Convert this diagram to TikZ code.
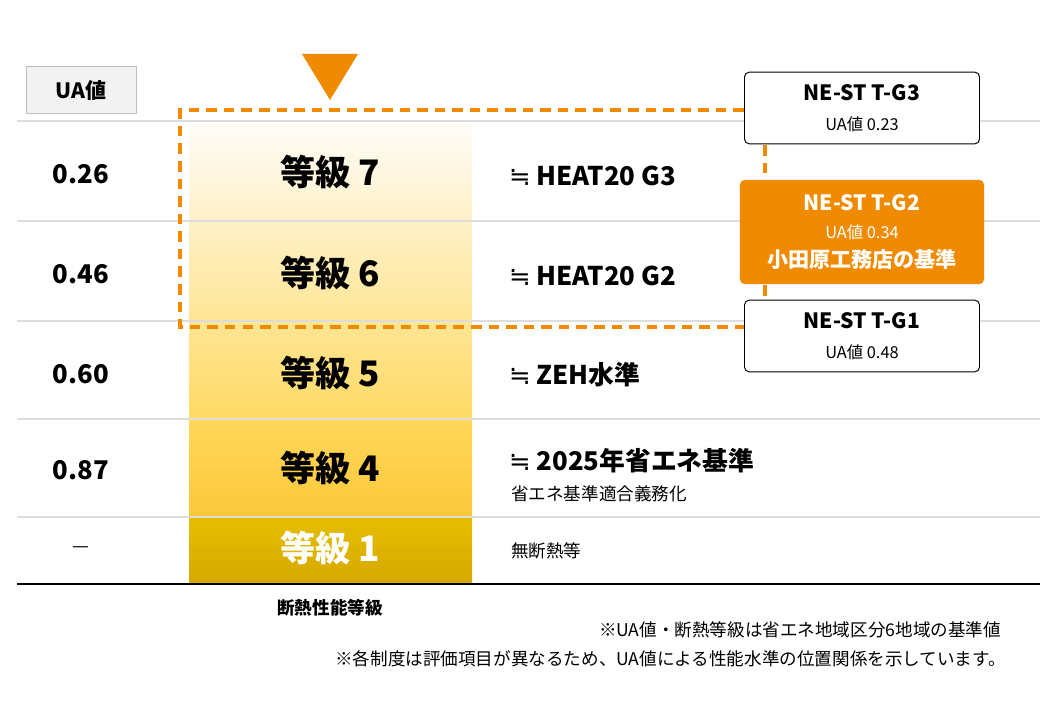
\documentclass[tikz,border=0pt]{standalone}
\usepackage{fontspec}
\setmainfont{Noto Sans CJK JP}
\newfontfamily\symfont{DejaVu Sans}
\definecolor{accent}{HTML}{F08A00}
\definecolor{rulegrey}{HTML}{DDDDDD}
\newcommand{\approxsym}{{\symfont\mdseries ≒}}
\tikzset{
  row/.style={draw=rulegrey, line width=1pt},
  grade/.style={font=\fontsize{30}{32}\selectfont\bfseries},
  uaval/.style={font=\fontsize{22}{24}\selectfont\bfseries},
  std/.style={anchor=west, font=\fontsize{22}{24}\selectfont\bfseries},
  stdbox/.style={draw, rounded corners=4pt, minimum width=7.05cm, line width=0.8pt, align=center, fill=white,
    font=\fontsize{18}{26}\selectfont}
}
\begin{document}
\begin{tikzpicture}[x=0.03cm, y=-0.03cm]
  \useasboundingbox (0,0) rectangle (1054,704);
  % grade column
  \shade[top color=yellow!3!orange!2!white, bottom color={rgb,255:red,255;green,218;blue,100}] (189,121) rectangle (472,419);
  \shade[top color={rgb,255:red,255;green,215;blue,90}, bottom color={rgb,255:red,252;green,200;blue,58}] (189,419) rectangle (472,517);
  \shade[top color={rgb,255:red,230;green,190;blue,0}, bottom color={rgb,255:red,214;green,168;blue,0}] (189,517) rectangle (472,584);
  % rows
  \foreach \y in {121,221,321,419,517}
    \draw[row] (17,\y) -- (1040,\y);
  \draw[line width=1.5pt] (17,584) -- (1040,584);
  % header
  \node[draw=gray!50, fill=gray!10, minimum width=3.3cm, minimum height=1.4cm,
        font=\fontsize{18}{20}\selectfont\bfseries] (ua) at (81,90) {UA値};
  \fill[accent] (302,54) -- (358,54) -- (330,100) -- cycle;
  % UA values
  \node[uaval] (u7) at (81,174) {0.26};
  \node[uaval] (u6) at (81,274) {0.46};
  \node[uaval] (u5) at (81,374) {0.60};
  \node[uaval] (u4) at (81,470) {0.87};
  \node[font=\fontsize{16}{18}\selectfont] (u1) at (81,550) {—};
  % grades
  \node[grade] (g7) at (330,172) {等級 7};
  \node[grade] (g6) at (330,273) {等級 6};
  \node[grade] (g5) at (330,373) {等級 5};
  \node[grade] (g4) at (330,468) {等級 4};
  \node[grade, text=white] (g1) at (330,548) {等級 1};
  % standards
  \node[std] (s7) at (505,176) {\approxsym\ HEAT20 G3};
  \node[std] (s6) at (505,276) {\approxsym\ HEAT20 G2};
  \node[std] (s5) at (505,375) {\approxsym\ ZEH水準};
  \node[std] (s4) at (505,461) {\approxsym\ 2025年省エネ基準};
  \node[anchor=west, font=\fontsize{15}{17}\selectfont] (s4b) at (507,494) {省エネ基準適合義務化};
  \node[anchor=west, font=\fontsize{15}{17}\selectfont] (s1) at (507,551) {無断熱等};
  % NE-ST boxes
  \node[stdbox, minimum height=2.15cm] (t3) at (862,108)
    {\textbf{NE-ST T-G3}\\{\fontsize{14}{16}\selectfont UA値 0.23}};
  \node[stdbox, fill=accent, draw=accent, text=white, minimum width=7.3cm, minimum height=3.1cm,
        font=\fontsize{18}{24}\selectfont] (t2) at (862,232)
    {\textbf{NE-ST T-G2}\\{\fontsize{14}{16}\selectfont UA値 0.34}\\\textbf{小田原工務店の基準}};
  \node[stdbox, minimum height=2.15cm] (t1) at (862,336)
    {\textbf{NE-ST T-G1}\\{\fontsize{14}{16}\selectfont UA値 0.48}};
  % dashed frame
  \draw[accent, line width=3pt, dash pattern=on 9pt off 6pt] (t3.west |- 0,110) -- (180,110) -- (180,327) -- (t1.west |- 0,327);
  \draw[accent, line width=3pt, dash pattern=on 9pt off 6pt] (765,145) -- (765,180);
  \draw[accent, line width=3pt, dash pattern=on 9pt off 6pt] (765,285) -- (765,300);
  % notes
  \node[font=\fontsize{15}{17}\selectfont\bfseries] (cap) at (330,608) {断熱性能等級};
  \node[anchor=east, font=\fontsize{15}{17}\selectfont] (n1) at (1005,630) {※UA値・断熱等級は省エネ地域区分6地域の基準値};
  \node[anchor=east, font=\fontsize{15}{17}\selectfont] (n2) at (1010,659) {※各制度は評価項目が異なるため、UA値による性能水準の位置関係を示しています。};
\end{tikzpicture}
\end{document}
